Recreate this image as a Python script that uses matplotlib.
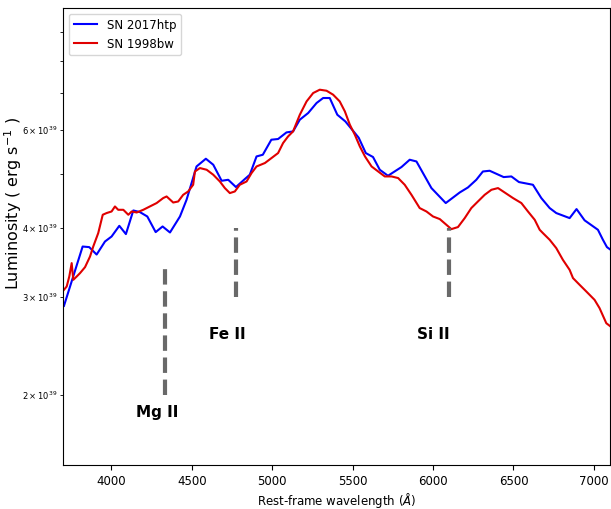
import matplotlib
matplotlib.use("Agg")
import matplotlib.pyplot as plt
import numpy as np

# SN 2017htp (blue) : wavelength (Angstrom), luminosity (1e39 erg/s)
wl_htp = [3706, 3822, 3863, 3909, 3961, 4002, 4050, 4091, 4137, 4178, 4224, 4276,
          4319, 4365, 4427, 4468, 4530, 4588, 4634, 4686, 4727, 4775, 4830, 4861,
          4903, 4942, 4995, 5037, 5089, 5130, 5172, 5224, 5276, 5317, 5358, 5405,
          5455, 5538, 5582, 5627, 5669, 5720, 5804, 5855, 5897, 5990, 6079, 6166,
          6217, 6269, 6310, 6352, 6439, 6487, 6534, 6621, 6673, 6725, 6766, 6849,
          6892, 6942, 7025, 7056, 7081, 7104]
lum_htp = [2.894, 3.701, 3.692, 3.580, 3.779, 3.858, 4.033, 3.897, 4.298, 4.269,
           4.192, 3.929, 4.022, 3.923, 4.192, 4.493, 5.158, 5.326, 5.195, 4.861,
           4.881, 4.736, 4.895, 4.984, 5.377, 5.415, 5.763, 5.780, 5.940, 5.965,
           6.262, 6.438, 6.710, 6.851, 6.851, 6.392, 6.217, 5.811, 5.453, 5.364,
           5.088, 4.963, 5.146, 5.304, 5.266, 4.716, 4.432, 4.631, 4.728, 4.881,
           5.052, 5.067, 4.936, 4.949, 4.835, 4.781, 4.525, 4.341, 4.252, 4.164,
           4.323, 4.126, 3.967, 3.806, 3.692, 3.651]

# SN 1998bw (red)
wl_bw = [3706, 3723, 3739, 3754, 3764, 3785, 3806, 3837, 3868, 3888, 3919, 3947,
         3971, 4002, 4023, 4043, 4075, 4106, 4127, 4158, 4199, 4240, 4282, 4323,
         4344, 4385, 4416, 4447, 4478, 4509, 4520, 4551, 4593, 4634, 4675, 4706,
         4737, 4768, 4799, 4841, 4872, 4903, 4955, 4996, 5037, 5068, 5099, 5130,
         5172, 5214, 5255, 5296, 5338, 5379, 5420, 5452, 5483, 5514, 5545, 5577,
         5618, 5659, 5700, 5742, 5783, 5824, 5866, 5917, 5959, 6000, 6042, 6083,
         6114, 6155, 6197, 6238, 6279, 6321, 6363, 6404, 6445, 6497, 6549, 6590,
         6632, 6663, 6683, 6725, 6766, 6807, 6849, 6870, 6911, 6953, 7004, 7035,
         7077, 7104]
lum_bw = [3.093, 3.136, 3.268, 3.455, 3.224, 3.268, 3.315, 3.398, 3.551, 3.701,
          3.913, 4.222, 4.252, 4.280, 4.370, 4.310, 4.310, 4.222, 4.280, 4.262,
          4.310, 4.370, 4.432, 4.525, 4.555, 4.442, 4.461, 4.586, 4.650, 4.781,
          5.052, 5.124, 5.088, 4.984, 4.847, 4.716, 4.619, 4.650, 4.781, 4.847,
          5.019, 5.158, 5.232, 5.341, 5.453, 5.684, 5.842, 5.965, 6.392, 6.755,
          6.994, 7.091, 7.061, 6.946, 6.755, 6.481, 6.132, 5.883, 5.605, 5.377,
          5.158, 5.052, 4.949, 4.949, 4.916, 4.781, 4.586, 4.341, 4.280, 4.192,
          4.147, 4.050, 3.978, 4.012, 4.164, 4.341, 4.461, 4.586, 4.683, 4.716,
          4.631, 4.525, 4.432, 4.280, 4.135, 3.967, 3.913, 3.806, 3.677, 3.503,
          3.360, 3.247, 3.158, 3.071, 2.967, 2.867, 2.693, 2.656]

# Line identifications: name, wavelength, marker bottom/top, label position
lines = ["Mg II", "Fe II", "Si II"]
line_wl = [4333, 4775, 6100]
line_lo = [2.0, 3.0, 3.0]
line_hi = [3.43, 4.0, 4.0]
label_wl = [4284, 4719, 6004]
label_lum = [1.857, 2.566, 2.566]

scale = 1e39

fig = plt.figure(figsize=(6.11, 5.09), dpi=100)
ax = fig.add_axes([63/611, 44/509, 547/611, 457/509])

ax.plot(wl_htp, np.array(lum_htp) * scale, color="#0000ff", lw=1.5, label="SN 2017htp")
ax.plot(wl_bw, np.array(lum_bw) * scale, color="#e00000", lw=1.5, label="SN 1998bw")

for name, w, lo, hi, lw_, ll in zip(lines, line_wl, line_lo, line_hi, label_wl, label_lum):
    ax.plot([w, w], [lo * scale, hi * scale], color="#696969", lw=3, ls="--")
    ax.text(lw_, ll * scale, name, fontsize=11, fontweight="bold", ha="center", va="center")

ax.set_yscale("log")
ax.set_xlim(3700, 7100)
ax.set_ylim(1.496e39, 9.95e39)
ax.tick_params(axis="x", labelsize=8.5)
ax.tick_params(axis="y", which="both", labelsize=6, pad=2)
ax.set_xlabel("Rest-frame wavelength ($\\AA$)", fontsize=8.5)
ax.set_ylabel("Luminosity ( erg s$^{-1}$ )", fontsize=11.5)
ax.xaxis.set_label_coords(0.5, -0.057)
ax.yaxis.set_label_coords(-0.071, 0.573)
ax.legend(loc="upper left", fontsize=8.5)

fig.savefig("out.png", dpi=100)
